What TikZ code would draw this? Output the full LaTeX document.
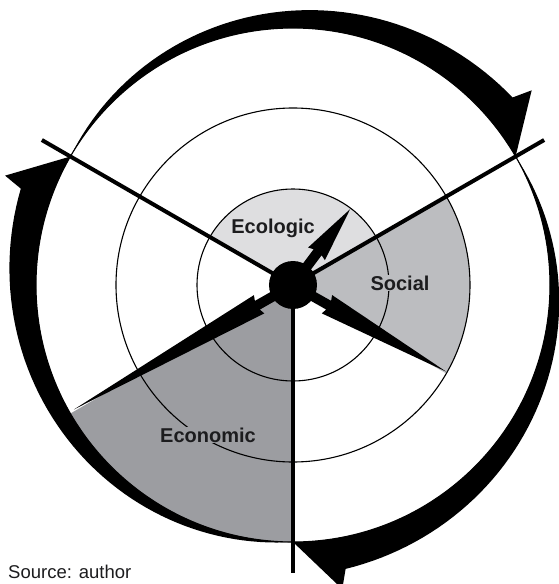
\documentclass[tikz,border=0pt]{standalone}
\usepackage{fontspec}
\setmainfont{Liberation Sans}
\definecolor{ecol}{RGB}{222,222,224}
\definecolor{socl}{RGB}{188,189,192}
\definecolor{econ}{RGB}{156,157,161}
\definecolor{txt}{RGB}{28,28,30}
\begin{document}
\begin{tikzpicture}[x=1pt,y=1pt,
  ring/.style={draw=black, line width=1.1pt},
  spoke/.style={draw=black, line width=4pt},
  handshape/.style={fill=black},
  crescent/.style={fill=black},
  lbl/.style={font=\fontsize{20}{24}\selectfont\bfseries, text=txt, inner sep=1pt}]
\useasboundingbox (-293,-299) rectangle (265,285);
\coordinate (O) at (0,0);
% sectors
\fill[ecol] (O) -- (30:96) arc[start angle=30,end angle=150,radius=96] -- cycle;
\fill[socl] (O) -- (-30:177) arc[start angle=-30,end angle=30,radius=177] -- cycle;
\fill[econ] (O) -- (210:257) arc[start angle=210,end angle=270,radius=257] -- cycle;
% rings
\draw[ring] (O) circle[radius=96];
\draw[ring] (O) circle[radius=177];
\draw[ring] (O) circle[radius=257];
% crescent arrows
\foreach \r in {0,-120,-240}{
  \fill[crescent, rotate=\r] plot[domain=0:109.5, samples=60] ({150-\x}:{257+0.29*\x})
    -- ({150-110.8}:308) -- (30:257)
    arc[start angle=30, end angle=150, radius=257] -- cycle;
}
% spokes
\draw[spoke] (O) -- (150:290);
\draw[spoke] (O) -- (30:290);
\draw[spoke] (O) -- (270:288);
% hands
\fill[handshape, rotate=53] (0,5) -- (41,5) -- (39,10.5) -- (95,0) -- (39,-10.5) -- (41,-5) -- (0,-5) -- cycle;
\fill[handshape, rotate=-29.5] (0,5) -- (41,5) -- (39,10.5) -- (176,0) -- (39,-10.5) -- (41,-5) -- (0,-5) -- cycle;
\fill[handshape, rotate=209.6] (0,5) -- (41,5) -- (39,10.5) -- (252,0) -- (39,-10.5) -- (41,-5) -- (0,-5) -- cycle;
% hub
\node[circle, fill=black, minimum size=48pt, inner sep=0pt] (hub) at (O) {};
% labels
\node[lbl] (ecolabel) at (-20,57) {Ecologic};
\node[lbl, fill=socl] (soclabel) at (107,2) {Social};
\node[lbl, fill=econ] (econlabel) at (-85,-150) {Economic};
\node[anchor=west, font=\fontsize{18.5}{22}\selectfont, text=txt, inner sep=0pt] (src) at (-285,-287) {Source: author};
\end{tikzpicture}
\end{document}
